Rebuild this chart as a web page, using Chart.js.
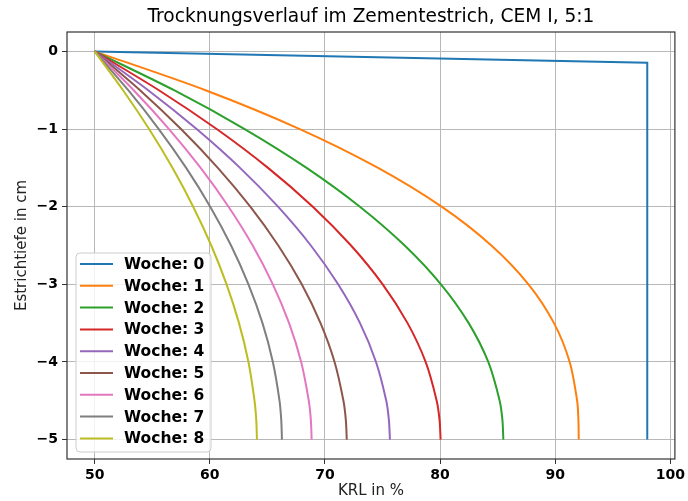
<!DOCTYPE html>
<html><head><meta charset="utf-8">
<script src="https://cdn.jsdelivr.net/npm/chart.js@4.4.0/dist/chart.umd.min.js"></script>
<style>html,body{margin:0;padding:0;background:#fff;} #c{display:block;}</style>
</head><body>
<canvas id="c" width="688" height="501"></canvas>
<script>
const chartTitle = 'Trocknungsverlauf im Zementestrich, CEM I, 5:1';
const xAxisTitle = 'KRL in %';
const yAxisTitle = 'Estrichtiefe in cm';
const weekLabels = ['Woche: 0','Woche: 1','Woche: 2','Woche: 3','Woche: 4','Woche: 5','Woche: 6','Woche: 7','Woche: 8'];
const xTicks = [50, 60, 70, 80, 90, 100];
const yTicks = [0, -1, -2, -3, -4, -5];

// Week 0: nearly flat line, then vertical edge
const week0Depth = [0, -0.145, -5];
const week0Krl   = [50, 98, 98];

// Depths (cm) at which the other curves were read
const depth = [0, -0.5, -1, -1.5, -2, -2.5, -3, -3.5, -4, -4.5, -4.75, -5];
const krlWeek1 = [50, 59.63, 67.82, 74.62, 80.14, 84.46, 87.68, 89.90, 91.26, 91.91, 92.02, 92.05];
const krlWeek2 = [50, 56.90, 63.03, 68.41, 73.04, 76.93, 80.08, 82.49, 84.19, 85.18, 85.42, 85.50];
const krlWeek3 = [50, 55.58, 60.60, 65.06, 68.95, 72.27, 75.02, 77.18, 78.75, 79.71, 79.96, 80.05];
const krlWeek4 = [50, 54.65, 58.86, 62.63, 65.93, 68.78, 71.15, 73.05, 74.44, 75.33, 75.56, 75.65];
const krlWeek5 = [50, 53.94, 57.50, 60.70, 63.52, 65.95, 67.99, 69.62, 70.84, 71.61, 71.82, 71.90];
const krlWeek6 = [50, 53.39, 56.46, 59.21, 61.63, 63.73, 65.48, 66.89, 67.94, 68.60, 68.78, 68.85];
const krlWeek7 = [50, 52.92, 55.57, 57.95, 60.04, 61.85, 63.36, 64.58, 65.48, 66.06, 66.21, 66.27];
const krlWeek8 = [50, 52.47, 54.73, 56.76, 58.56, 60.13, 61.46, 62.54, 63.36, 63.89, 64.04, 64.10];

const colors = ['#1f77b4','#ff7f0e','#2ca02c','#d62728','#9467bd','#8c564b','#e377c2','#7f7f7f','#bcbd22'];

const curves = [
  {x: week0Krl, y: week0Depth},
  {x: krlWeek1, y: depth}, {x: krlWeek2, y: depth}, {x: krlWeek3, y: depth},
  {x: krlWeek4, y: depth}, {x: krlWeek5, y: depth}, {x: krlWeek6, y: depth},
  {x: krlWeek7, y: depth}, {x: krlWeek8, y: depth}
];

const datasets = curves.map((c, i) => ({
  label: weekLabels[i],
  data: c.x.map((v, k) => ({x: v, y: c.y[k]})),
  showLine: true,
  borderColor: colors[i],
  backgroundColor: colors[i],
  borderWidth: 2,
  pointRadius: 0,
  pointHoverRadius: 0,
  fill: false,
  tension: i === 0 ? 0 : 0.3,
  order: -i
}));

const FONT = 'DejaVu Sans';

const decor = {
  id: 'decor',
  afterDatasetsDraw(chart) {
    const {ctx, chartArea: a} = chart;
    ctx.save();
    ctx.strokeStyle = '#333333';
    ctx.lineWidth = 1.2;
    ctx.strokeRect(a.left, a.top, a.right - a.left, a.bottom - a.top);
    ctx.restore();
  },
  afterDraw(chart) {
    const {ctx, chartArea: a} = chart;
    ctx.save();
    // title
    ctx.fillStyle = '#000';
    ctx.font = '18.6px "' + FONT + '"';
    ctx.textAlign = 'center';
    ctx.textBaseline = 'middle';
    ctx.fillText(chartTitle, (a.left + a.right) / 2, 17);
    // legend
    const lx = a.left + 9, lw = 135, lh = 199;
    const ly = a.bottom - 7 - lh;
    const r = 4;
    ctx.beginPath();
    ctx.moveTo(lx + r, ly);
    ctx.lineTo(lx + lw - r, ly); ctx.quadraticCurveTo(lx + lw, ly, lx + lw, ly + r);
    ctx.lineTo(lx + lw, ly + lh - r); ctx.quadraticCurveTo(lx + lw, ly + lh, lx + lw - r, ly + lh);
    ctx.lineTo(lx + r, ly + lh); ctx.quadraticCurveTo(lx, ly + lh, lx, ly + lh - r);
    ctx.lineTo(lx, ly + r); ctx.quadraticCurveTo(lx, ly, lx + r, ly);
    ctx.closePath();
    ctx.fillStyle = 'rgba(255,255,255,0.8)';
    ctx.fill();
    ctx.strokeStyle = '#cccccc';
    ctx.lineWidth = 1;
    ctx.stroke();
    ctx.font = 'bold 15.5px "' + FONT + '"';
    ctx.textAlign = 'left';
    ctx.textBaseline = 'middle';
    chart.data.datasets.forEach((ds, i) => {
      const y = ly + 11 + i * 21.8;
      ctx.strokeStyle = ds.borderColor;
      ctx.lineWidth = 2;
      ctx.beginPath();
      ctx.moveTo(lx + 4, y); ctx.lineTo(lx + 37, y);
      ctx.stroke();
      ctx.fillStyle = '#000';
      ctx.fillText(ds.label, lx + 48, y + 1);
    });
    ctx.restore();
  }
};

new Chart(document.getElementById('c'), {
  type: 'scatter',
  data: { datasets },
  plugins: [decor],
  options: {
    responsive: false,
    animation: false,
    devicePixelRatio: 1,
    layout: { padding: { left: 0, top: 32, right: 13, bottom: 0 } },
    plugins: { legend: { display: false }, title: { display: false }, tooltip: { enabled: false } },
    scales: {
      x: {
        type: 'linear', min: 47.6, max: 100.4,
        afterBuildTicks: s => { s.ticks = xTicks.map(v => ({value: v})); },
        afterFit: s => { s.height = 42; },
        ticks: { includeBounds: false, color: '#000', padding: 3, font: { family: FONT, size: 14, weight: 'bold' } },
        grid: { color: '#b8b8b8', lineWidth: 1, tickColor: '#333', tickLength: 5 },
        border: { display: false },
        title: { display: true, text: xAxisTitle, color: '#222', font: { family: FONT, size: 15 }, padding: { top: 0, bottom: 1 } }
      },
      y: {
        type: 'linear', min: -5.25, max: 0.25,
        afterBuildTicks: s => { s.ticks = yTicks.map(v => ({value: v})); },
        afterFit: s => { s.width = 67; },
        ticks: { includeBounds: false, color: '#000', padding: 4, font: { family: FONT, size: 14, weight: 'bold' },
                 callback: v => v < 0 ? '\u2212' + Math.abs(v) : String(v) },
        grid: { color: '#b8b8b8', lineWidth: 1, tickColor: '#333', tickLength: 5 },
        border: { display: false },
        title: { display: true, text: yAxisTitle, color: '#222', font: { family: FONT, size: 15 }, padding: { top: 13, bottom: 0 } }
      }
    }
  }
});
</script>
</body></html>
